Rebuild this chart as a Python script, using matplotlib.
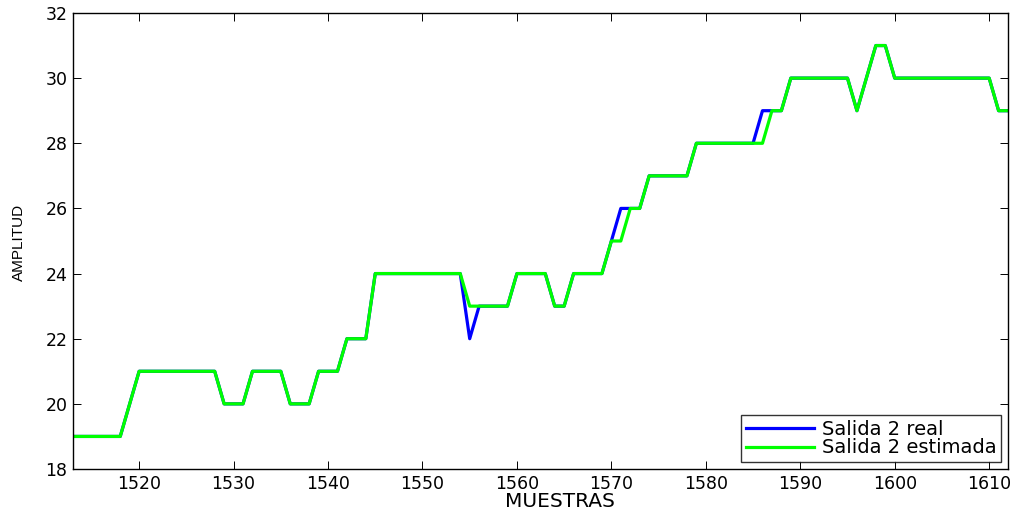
import matplotlib
matplotlib.use("Agg")
import matplotlib.pyplot as plt

# sample index (1513 .. 1612)
muestras = list(range(1513, 1613))

salida_real = [
    19, 19, 19, 19, 19, 19, 20, 21, 21, 21,
    21, 21, 21, 21, 21, 21, 20, 20, 20, 21,
    21, 21, 21, 20, 20, 20, 21, 21, 21, 22,
    22, 22, 24, 24, 24, 24, 24, 24, 24, 24,
    24, 24, 22, 23, 23, 23, 23, 24, 24, 24,
    24, 23, 23, 24, 24, 24, 24, 25, 26, 26,
    26, 27, 27, 27, 27, 27, 28, 28, 28, 28,
    28, 28, 28, 29, 29, 29, 30, 30, 30, 30,
    30, 30, 30, 29, 30, 31, 31, 30, 30, 30,
    30, 30, 30, 30, 30, 30, 30, 30, 29, 29,
]

salida_estimada = [
    19, 19, 19, 19, 19, 19, 20, 21, 21, 21,
    21, 21, 21, 21, 21, 21, 20, 20, 20, 21,
    21, 21, 21, 20, 20, 20, 21, 21, 21, 22,
    22, 22, 24, 24, 24, 24, 24, 24, 24, 24,
    24, 24, 23, 23, 23, 23, 23, 24, 24, 24,
    24, 23, 23, 24, 24, 24, 24, 25, 25, 26,
    26, 27, 27, 27, 27, 27, 28, 28, 28, 28,
    28, 28, 28, 28, 29, 29, 30, 30, 30, 30,
    30, 30, 30, 29, 30, 31, 31, 30, 30, 30,
    30, 30, 30, 30, 30, 30, 30, 30, 29, 29,
]

plt.rcParams['font.family'] = ['DejaVu Sans']

fig = plt.figure(figsize=(10.17, 5.15), dpi=100)
ax = fig.add_axes([0.0718, 0.0893, 0.9194, 0.8855])

ax.plot(muestras, salida_real, color=(0, 0, 1), lw=2.3, label='Salida 2 real')
ax.plot(muestras, salida_estimada, color=(0, 1, 0), lw=2.3, label='Salida 2 estimada')

ax.set_xlim(1513, 1612)
ax.set_ylim(18, 32)
ax.set_xticks(range(1520, 1611, 10))
ax.set_yticks(range(18, 33, 2))
ax.tick_params(direction='in', top=True, right=True, length=6, width=0.7,
               labelsize=12.5, colors='black', pad=4)
for s in ax.spines.values():
    s.set_linewidth(1.0)

ax.set_xlabel('MUESTRAS', fontsize=14.5)
ax.xaxis.set_label_coords(0.521, -0.05)
ax.set_ylabel('AMPLITUD', fontsize=11, family='Liberation Sans')
ax.yaxis.set_label_coords(-0.050, 0.497)

leg = ax.legend(loc='lower right', prop={'size': 14}, frameon=True,
                fancybox=False, borderaxespad=0.35, handlelength=3.5,
                handletextpad=0.4, labelspacing=-0.02, borderpad=0.25)
leg.get_frame().set_edgecolor('black')
leg.get_frame().set_linewidth(1.0)

fig.savefig('out.png', dpi=100)
